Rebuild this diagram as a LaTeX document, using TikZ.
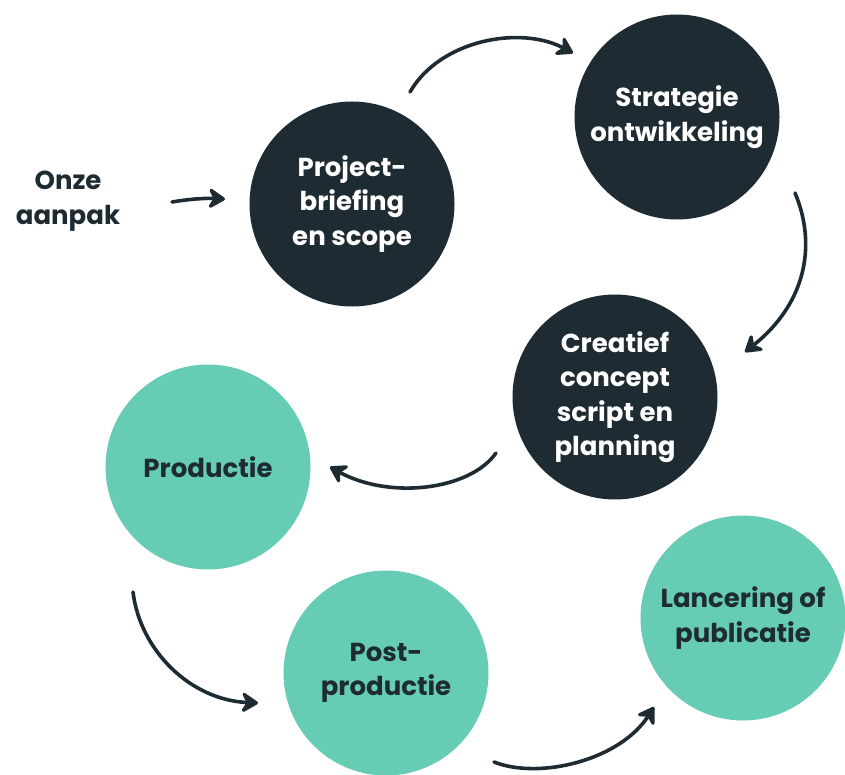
\documentclass[tikz,border=0pt]{standalone}
\usepackage{fontspec}
\setmainfont{Poppins}
\usetikzlibrary{arrows.meta}
\definecolor{ink}{HTML}{1E2B33}
\definecolor{teal}{HTML}{66CDB4}
\tikzset{
  x=1pt,y=-1pt,
  lbl/.style={align=center,font=\bfseries\fontsize{26}{34.5}\selectfont},
  dark/.style={lbl,circle,fill=ink,text=white,minimum size=205pt,inner sep=0pt},
  light/.style={lbl,circle,fill=teal,text=ink,minimum size=205pt,inner sep=0pt},
  brush/.style={draw=ink,line width=3.6pt,line cap=round,-{Stealth[length=20pt,width=25pt,inset=7pt,round]}},
}
\begin{document}
\begin{tikzpicture}
\useasboundingbox (0,0) rectangle (845,775);
\node[lbl,text=ink] (onze) at (68,201) {Onze\\aanpak};
\node[dark] (p1) at (352,204) {Project-\\briefing\\en scope};
\node[dark] (p2) at (677,117) {Strategie\\ontwikkeling};
\node[dark] (p3) at (615,397) {Creatief\\concept\\script en\\planning};
\node[light] (p4) at (208,467) {Productie};
\node[light] (p5) at (386,673) {Post-\\productie};
\node[light] (p6) at (743,618) {Lancering of\\publicatie};
\coordinate (a1s) at (172,202); \coordinate (a1e) at (225,199);
\coordinate (a2s) at (410,92);  \coordinate (a2e) at (573,53);
\coordinate (a3s) at (795,193); \coordinate (a3e) at (745,352);
\coordinate (a4s) at (496,453); \coordinate (a4e) at (330,467);
\coordinate (a5s) at (133,592); \coordinate (a5e) at (258,703);
\coordinate (a6s) at (494,762); \coordinate (a6e) at (654,707);
\draw[brush] (a1s) .. controls (190,199) and (205,198) .. (a1e);
\draw[brush] (a2s) .. controls (440,40) and (520,25) .. (a2e);
\draw[brush] (a3s) .. controls (815,240) and (810,300) .. (a3e);
\draw[brush] (a4s) .. controls (470,490) and (390,500) .. (a4e);
\draw[brush] (a5s) .. controls (140,650) and (190,700) .. (a5e);
\draw[brush] (a6s) .. controls (540,780) and (620,760) .. (a6e);
\end{tikzpicture}
\end{document}
